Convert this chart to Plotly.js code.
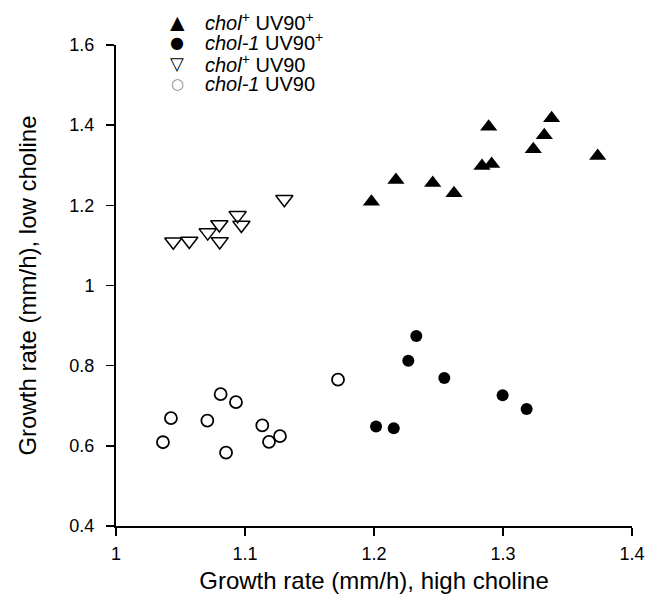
<!DOCTYPE html>
<html>
<head>
<meta charset="utf-8">
<script src="https://cdn.plot.ly/plotly-3.0.1.min.js"></script>
<style>html,body{margin:0;padding:0;background:#fff;}#chart{width:656px;height:601px;}</style>
</head>
<body>
<div id="chart"></div>
<script>
// chol+ UV90+ (filled up-triangles)
var cholPlusUVPlusX = [1.198, 1.217, 1.2455, 1.262, 1.2837, 1.2912, 1.2889, 1.3235, 1.332, 1.3377, 1.3734];
var cholPlusUVPlusY = [1.209, 1.263, 1.256, 1.230, 1.298, 1.303, 1.396, 1.340, 1.375, 1.417, 1.323];
// chol-1 UV90+ (filled circles)
var chol1UVPlusX = [1.2016, 1.2153, 1.2266, 1.2328, 1.2545, 1.2997, 1.3183];
var chol1UVPlusY = [0.648, 0.644, 0.812, 0.874, 0.769, 0.726, 0.692];
// chol+ UV90 (open down-triangles)
var cholPlusUVX = [1.0444, 1.0568, 1.0711, 1.0801, 1.0804, 1.0943, 1.0972, 1.1305];
var cholPlusUVY = [1.109, 1.111, 1.132, 1.152, 1.110, 1.175, 1.151, 1.215];
// chol-1 UV90 (open circles)
var chol1UVX = [1.0364, 1.0426, 1.0708, 1.0811, 1.0853, 1.093, 1.1134, 1.1186, 1.1271, 1.1721];
var chol1UVY = [0.609, 0.669, 0.663, 0.729, 0.583, 0.709, 0.651, 0.610, 0.624, 0.765];

var seriesNames = [
  '<i>chol</i><sup>+</sup> UV90<sup>+</sup>',
  '<i>chol-1</i> UV90<sup>+</sup>',
  '<i>chol</i><sup>+</sup> UV90',
  '<i>chol-1</i> UV90'
];
var legendSymbols = ['\u25B2', '\u25CF', '\u25BD', '\u25CB'];
var xTicks = [1, 1.1, 1.2, 1.3, 1.4];
var xTickText = ['1', '1.1', '1.2', '1.3', '1.4'];
var yTicks = [0.4, 0.6, 0.8, 1, 1.2, 1.4, 1.6];
var yTickText = ['0.4', '0.6', '0.8', '1', '1.2', '1.4', '1.6'];

var font = 'Liberation Sans, Arial, sans-serif';

var traces = [
  {x: cholPlusUVPlusX, y: cholPlusUVPlusY, name: seriesNames[0], mode: 'markers', type: 'scatter',
   marker: {symbol: 'triangle-up', size: 15, color: '#000', line: {width: 0}}},
  {x: chol1UVPlusX, y: chol1UVPlusY, name: seriesNames[1], mode: 'markers', type: 'scatter',
   marker: {symbol: 'circle', size: 12, color: '#000', line: {width: 0}}},
  {x: cholPlusUVX, y: cholPlusUVY, name: seriesNames[2], mode: 'markers', type: 'scatter',
   marker: {symbol: 'triangle-down-open', size: 15, color: '#000', line: {width: 1.5, color: '#000'}}},
  {x: chol1UVX, y: chol1UVY, name: seriesNames[3], mode: 'markers', type: 'scatter',
   marker: {symbol: 'circle-open', size: 12, color: '#000', line: {width: 1.8, color: '#000'}}}
];

// legend drawn as paper-anchored annotations (pixel rows converted to paper fractions)
var plotL = 116, plotW = 516, plotB = 526, plotH = 481;
var rowsPx = [22, 42, 63, 84];
var symSizes = [19, 16, 18, 15];
var symColors = ['#000', '#000', '#000', '#888'];
var annotations = [];
for (var i = 0; i < seriesNames.length; i++) {
  var py = (plotB - rowsPx[i]) / plotH;
  annotations.push({xref: 'paper', yref: 'paper', x: (177 - plotL) / plotW, y: py,
    xanchor: 'center', yanchor: 'middle', showarrow: false, text: legendSymbols[i], height: 18,
    font: {family: 'DejaVu Sans', size: symSizes[i], color: symColors[i]}});
  annotations.push({xref: 'paper', yref: 'paper', x: (203 - plotL) / plotW, y: py,
    xanchor: 'left', yanchor: 'middle', showarrow: false, text: seriesNames[i], height: 19,
    font: {family: font, size: 20, color: '#000'}});
}

var layout = {
  width: 656, height: 601,
  margin: {l: 116, r: 24, t: 45, b: 75},
  paper_bgcolor: '#fff', plot_bgcolor: '#fff',
  font: {family: font, size: 18, color: '#000'},
  showlegend: false,
  annotations: annotations,
  xaxis: {range: [1, 1.4], tickvals: xTicks, ticktext: xTickText, showgrid: false, zeroline: false,
          showline: true, linecolor: '#000', linewidth: 2, ticks: 'outside', ticklen: 8, tickwidth: 1.5,
          tickcolor: '#000', tickfont: {size: 18}, ticklabelstandoff: 2,
          title: {text: 'Growth rate (mm/h), high choline', font: {size: 24}, standoff: 10}},
  yaxis: {range: [0.4, 1.6], tickvals: yTicks, ticktext: yTickText, showgrid: false, zeroline: false,
          showline: true, linecolor: '#000', linewidth: 2, ticks: 'outside', ticklen: 8, tickwidth: 1.5,
          tickcolor: '#000', tickfont: {size: 18}, ticklabelstandoff: 8,
          title: {text: 'Growth rate (mm/h), low choline', font: {size: 24}, standoff: 26}}
};

Plotly.newPlot('chart', traces, layout, {displayModeBar: false, staticPlot: true});
</script>
</body>
</html>
